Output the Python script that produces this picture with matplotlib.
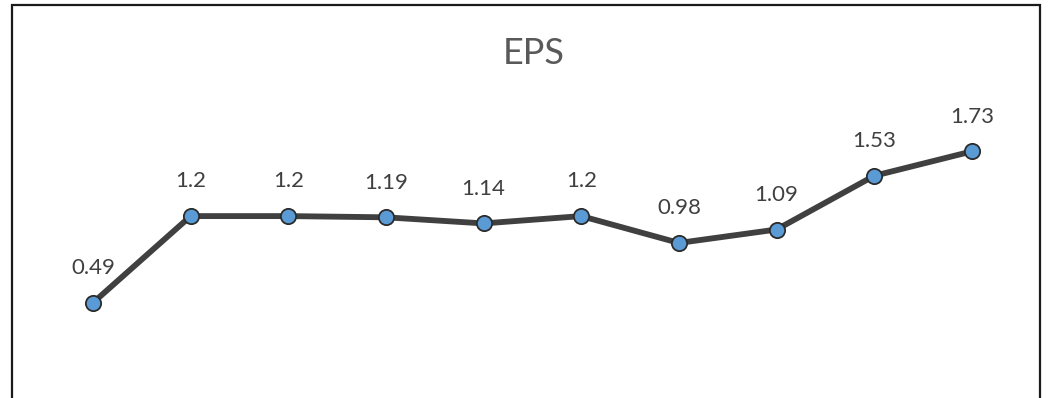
from matplotlib import pyplot as plt
from matplotlib.patches import Rectangle

# EPS values
periods = list(range(10))
eps = [0.49, 1.2, 1.2, 1.19, 1.14, 1.2, 0.98, 1.09, 1.53, 1.73]
labels = ['0.49', '1.2', '1.2', '1.19', '1.14', '1.2', '0.98', '1.09', '1.53', '1.73']

fig = plt.figure(figsize=(10.51, 3.98), dpi=100)
ax = fig.add_axes([0, 0, 1, 1])
ax.set_xlim(-0.952, 9.81)
ax.set_ylim(-0.29, 2.97)
ax.axis('off')

ax.plot(periods, eps, color='#404040', linewidth=4.2, solid_capstyle='round',
        marker='o', markersize=11, markerfacecolor='#5B9BD5',
        markeredgecolor='#2b2b2b', markeredgewidth=1.3, zorder=3)

for x, y, t in zip(periods, eps, labels):
    ax.annotate(t, (x, y), xytext=(0, 25), textcoords='offset points',
                ha='center', va='center', fontsize=16, color='#404040',
                family='Lato')

fig.text(534 / 1051, 1 - 54 / 398, 'EPS', ha='center', va='center',
         fontsize=26, color='#595959', family='Lato')

# chart border (bottom edge is cut off in the original)
fig.patches.append(Rectangle((12 / 1051, -0.1), (1040 - 12) / 1051, 1.1 - 5 / 398,
                             transform=fig.transFigure, fill=False,
                             edgecolor='#1a1a1a', linewidth=1.6))

plt.savefig('out.png', dpi=100)
